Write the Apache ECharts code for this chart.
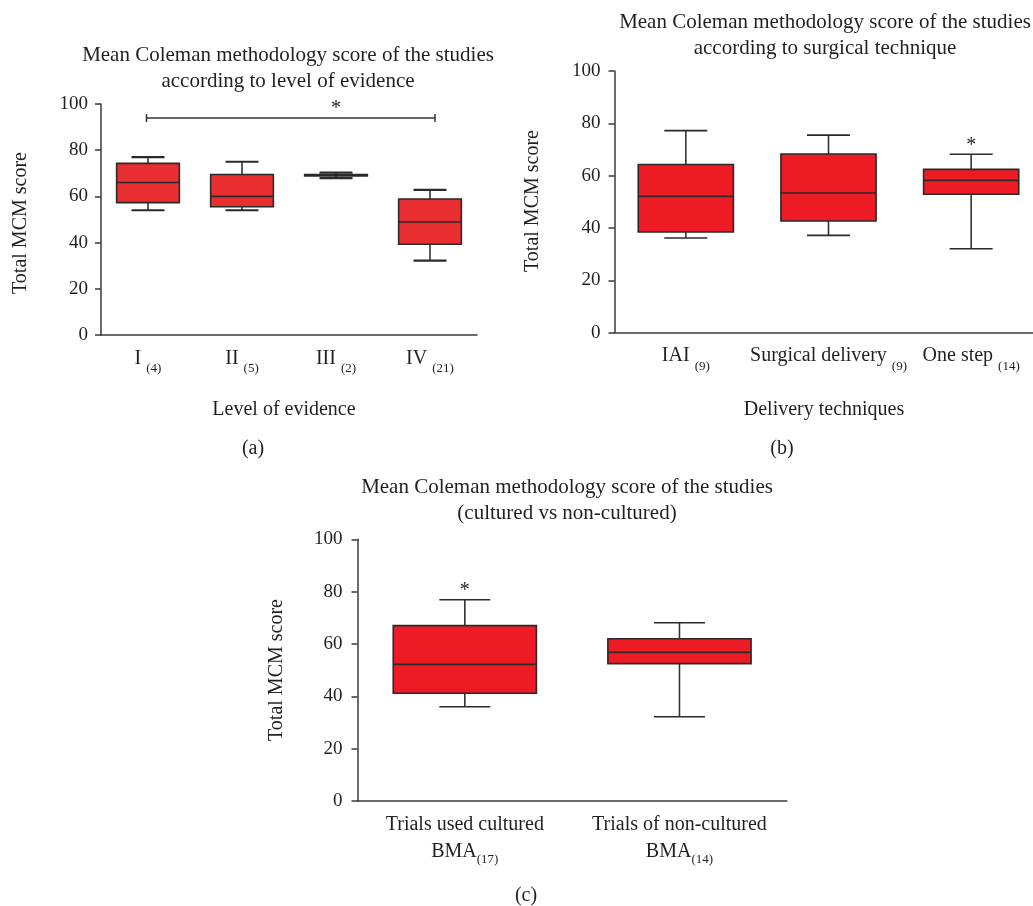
<!DOCTYPE html>
<html><head><meta charset="utf-8">
<script src="https://cdn.jsdelivr.net/npm/echarts@6/dist/echarts.min.js"></script>
<style>html,body{margin:0;padding:0;background:#fff}#c{width:1033px;height:906px}</style>
</head><body><div id="c"></div>
<script>
// ---- Panel (a): level of evidence ----
const levelCats = ['I', 'II', 'III', 'IV'];
const levelN = ['(4)', '(5)', '(2)', '(21)'];
const levelMin = [54, 54, 67.9, 32.2];
const levelQ1 = [57.3, 55.5, 68.9, 39.3];
const levelMed = [66, 60, 69.2, 48.9];
const levelQ3 = [74.3, 69.5, 69.5, 58.9];
const levelMax = [77, 75, 70.3, 62.8];
const levelBracket = [0, 3, 93.9];   // from category, to category, value
const levelStar = [1.5, 100];
// ---- Panel (b): delivery techniques ----
const techCats = ['IAI', 'Surgical delivery', 'One step'];
const techN = ['(9)', '(9)', '(14)'];
const techMin = [36.2, 37.2, 32.1];
const techQ1 = [38.5, 42.7, 52.9];
const techMed = [52.1, 53.4, 58.2];
const techQ3 = [64.3, 68.3, 62.4];
const techMax = [77.2, 75.5, 68.2];
const techStar = [2, 73.3];
// ---- Panel (c): cultured vs non-cultured ----
const cultCats = ['Trials used cultured\nBMA', 'Trials of non-cultured\nBMA'];
const cultN = ['(17)', '(14)'];
const cultMin = [36.0, 32.2];
const cultQ1 = [41.2, 52.5];
const cultMed = [52.2, 56.8];
const cultQ3 = [67.0, 62.0];
const cultMax = [76.9, 68.1];
const cultStar = [0, 82.3];
// ---- shared ----
const yMin = 0, yMax = 100, yStep = 20;

const FONT = 'Liberation Serif';
const TXT = '#231f20';
const AX = '#3a3a3a';

function boxData(mn, q1, md, q3, mx) {
  return mn.map((v, i) => [i, mn[i], q1[i], md[i], q3[i], mx[i]]);
}
function boxRender(fill, capW, capLW) {
  return function (params, api) {
    const x = api.value(0);
    const lo = api.coord([x, api.value(1)]);
    const b1 = api.coord([x, api.value(2)]);
    const md = api.coord([x, api.value(3)]);
    const b3 = api.coord([x, api.value(4)]);
    const hi = api.coord([x, api.value(5)]);
    const band = api.size([1, 0])[0];
    const bw = band * 0.667;
    const cx = md[0];
    const ls = { stroke: '#333', lineWidth: 1.6 };
    const cs = { stroke: '#2a2a2a', lineWidth: capLW || 1.6 };
    return {
      type: 'group', children: [
        { type: 'line', shape: { x1: cx, y1: hi[1], x2: cx, y2: b3[1] }, style: ls },
        { type: 'line', shape: { x1: cx, y1: b1[1], x2: cx, y2: lo[1] }, style: ls },
        { type: 'rect', shape: { x: cx - bw / 2, y: b3[1], width: bw, height: b1[1] - b3[1] },
          style: { fill: fill, stroke: '#2a2a2a', lineWidth: 1.6 } },
        { type: 'line', shape: { x1: cx - bw / 2, y1: md[1], x2: cx + bw / 2, y2: md[1] },
          style: { stroke: '#2a2a2a', lineWidth: 1.6 } },
        { type: 'line', shape: { x1: cx - capW / 2, y1: hi[1], x2: cx + capW / 2, y2: hi[1] }, style: cs },
        { type: 'line', shape: { x1: cx - capW / 2, y1: lo[1], x2: cx + capW / 2, y2: lo[1] }, style: cs }
      ]
    };
  };
}
function starRender(params, api) {
  const p = api.coord([api.value(0), api.value(1)]);
  return { type: 'text', x: p[0], y: p[1] + 5,
    style: { text: '*', fill: TXT, font: '20px "' + FONT + '"', align: 'center', verticalAlign: 'middle' } };
}
function bracketRender(params, api) {
  const a = api.coord([api.value(0), api.value(2)]);
  const b = api.coord([api.value(1), api.value(2)]);
  const ls = { stroke: '#333', lineWidth: 1.5 };
  return { type: 'group', children: [
    { type: 'line', shape: { x1: a[0] - 1.5, y1: a[1], x2: b[0] + 5, y2: b[1] }, style: ls },
    { type: 'line', shape: { x1: a[0] - 1.5, y1: a[1] - 4, x2: a[0] - 1.5, y2: a[1] + 4 }, style: ls },
    { type: 'line', shape: { x1: b[0] + 5, y1: b[1] - 4, x2: b[0] + 5, y2: b[1] + 4 }, style: ls }
  ]};
}

const richBase = {
  m: { fontFamily: FONT, fontSize: 20, color: TXT, lineHeight: 22 },
  m1: { fontFamily: FONT, fontSize: 20, color: TXT, lineHeight: 32 },
  s: { fontFamily: FONT, fontSize: 13, color: TXT, lineHeight: 14, padding: [20, 0, 0, 0] },
  s2: { fontFamily: FONT, fontSize: 13, color: TXT, lineHeight: 14, padding: [16, 0, 0, 0] }
};

function xAxisDef(gi, cats, fmt, margin) {
  return {
    gridIndex: gi, type: 'category', data: cats, boundaryGap: true,
    axisLine: { lineStyle: { color: AX, width: 1.5 } },
    axisTick: { alignWithLabel: true, length: 5, lineStyle: { color: AX, width: 1.5 } },
    axisLabel: { interval: 0, hideOverlap: false, margin: margin, formatter: fmt, rich: richBase },
    splitLine: { show: false }
  };
}
function yAxisDef(gi, margin) {
  return {
    gridIndex: gi, type: 'value', min: yMin, max: yMax, interval: yStep,
    axisLine: { show: true, lineStyle: { color: AX, width: 1.5 } },
    axisTick: { show: true, length: 6, lineStyle: { color: AX, width: 1.5 } },
    axisLabel: { margin: margin, fontFamily: FONT, fontSize: 19, color: TXT },
    splitLine: { show: false }
  };
}

function txt(x, y, text, size, extra) {
  return Object.assign({ type: 'text', x: x, y: y,
    style: { text: text, fill: TXT, font: size + 'px "' + FONT + '"', align: 'center', verticalAlign: 'middle', lineHeight: 26 } }, extra || {});
}

const chart = echarts.init(document.getElementById('c'), null, { renderer: 'canvas' });
chart.setOption({
  animation: false,
  backgroundColor: '#fff',
  grid: [
    { left: 101, top: 104, width: 376, height: 231, outerBoundsMode: 'none', containLabel: false },
    { left: 614.5, top: 71, width: 428, height: 261.7, outerBoundsMode: 'none', containLabel: false },
    { left: 357.5, top: 539.3, width: 429.3, height: 261.7, outerBoundsMode: 'none', containLabel: false }
  ],
  xAxis: [
    xAxisDef(0, levelCats, (v, i) => '{m|' + v + ' }{s|' + levelN[i] + '}', 12.5),
    xAxisDef(1, techCats, (v, i) => '{m|' + v + ' }{s|' + techN[i] + '}', 12.5),
    xAxisDef(2, cultCats, (v, i) => {
      const parts = v.split('\n');
      return '{m1|' + parts[0] + '}\n{m|' + parts[1] + '}{s2|' + cultN[i] + '}';
    }, 8)
  ],
  yAxis: [yAxisDef(0, 13), yAxisDef(1, 14), yAxisDef(2, 15)],
  series: [
    { type: 'custom', xAxisIndex: 0, yAxisIndex: 0, renderItem: boxRender('#e92e31', 33, 2.2),
      data: boxData(levelMin, levelQ1, levelMed, levelQ3, levelMax), encode: { x: 0, y: [1, 2, 3, 4, 5] } },
    { type: 'custom', xAxisIndex: 0, yAxisIndex: 0, renderItem: bracketRender,
      data: [levelBracket], encode: { x: [0, 1], y: 2 } },
    { type: 'custom', xAxisIndex: 0, yAxisIndex: 0, renderItem: starRender,
      data: [levelStar], encode: { x: 0, y: 1 } },
    { type: 'custom', xAxisIndex: 1, yAxisIndex: 1, renderItem: boxRender('#ed1c24', 43),
      data: boxData(techMin, techQ1, techMed, techQ3, techMax), encode: { x: 0, y: [1, 2, 3, 4, 5] } },
    { type: 'custom', xAxisIndex: 1, yAxisIndex: 1, renderItem: starRender,
      data: [techStar], encode: { x: 0, y: 1 } },
    { type: 'custom', xAxisIndex: 2, yAxisIndex: 2, renderItem: boxRender('#ed1c24', 51),
      data: boxData(cultMin, cultQ1, cultMed, cultQ3, cultMax), encode: { x: 0, y: [1, 2, 3, 4, 5] } },
    { type: 'custom', xAxisIndex: 2, yAxisIndex: 2, renderItem: starRender,
      data: [cultStar], encode: { x: 0, y: 1 } }
  ],
  graphic: [
    txt(288, 68.5, 'Mean Coleman methodology score of the studies\naccording to level of evidence', 21),
    txt(825, 35, 'Mean Coleman methodology score of the studies\naccording to surgical technique', 21),
    txt(567, 500, 'Mean Coleman methodology score of the studies\n(cultured vs non-cultured)', 21),
    txt(21, 223, 'Total MCM score', 20, { rotation: Math.PI / 2 }),
    txt(533, 201, 'Total MCM score', 20, { rotation: Math.PI / 2 }),
    txt(277, 670, 'Total MCM score', 20, { rotation: Math.PI / 2 }),
    txt(284, 410, 'Level of evidence', 20),
    txt(824, 410, 'Delivery techniques', 20),
    txt(253, 449, '(a)', 20),
    txt(782, 449, '(b)', 20),
    txt(526, 896, '(c)', 20)
  ]
});
</script></body></html>
